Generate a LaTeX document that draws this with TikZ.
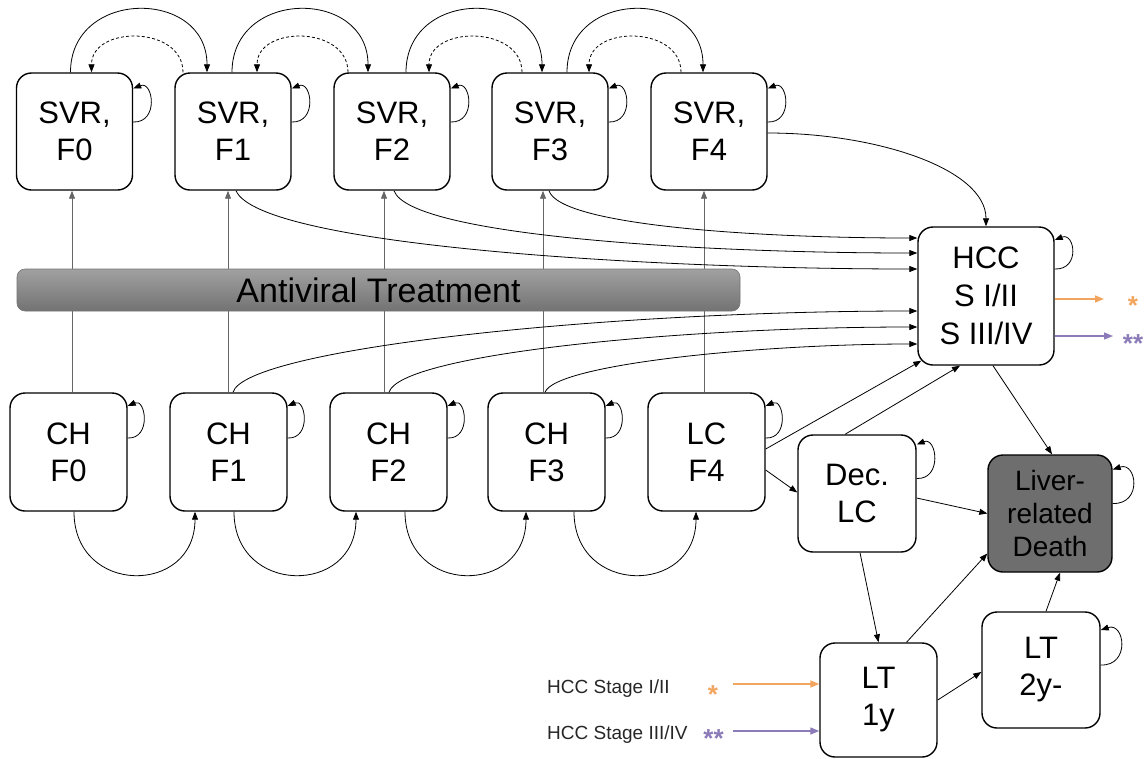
\documentclass[tikz,border=0pt]{standalone}
\usepackage{fontspec}
\setmainfont{Liberation Sans}
\usetikzlibrary{arrows.meta}
\definecolor{orng}{HTML}{F2A55E}
\definecolor{purp}{HTML}{8B7BB8}
\definecolor{deathgray}{HTML}{6E6E6E}
\newcommand\selfloop[4]{\draw[arr] ([yshift=#2pt]#1.east) .. controls +(#4,-1) and +(#4-6,8) .. ([yshift=#3pt]#1.east);}
\begin{document}
\begin{tikzpicture}[x=1pt,y=1pt,
  box/.style={draw=black,line width=1.4pt,rounded corners=15pt,fill=white,align=center,inner sep=0pt,font=\fontsize{31}{37}\selectfont},
  svrbox/.style={box,minimum width=116pt,minimum height=117pt},
  chbox/.style={box,minimum width=117pt,minimum height=118pt},
  arr/.style={-{Triangle[length=8pt,width=6pt]},line width=0.8pt,draw=black},
  back/.style={arr,dash pattern=on 3pt off 2.2pt},
  vline/.style={-{Triangle[length=8pt,width=6pt]},line width=0.9pt,draw=black!60},
  oarr/.style={-{Triangle[length=9pt,width=7pt]},line width=1.6pt,draw=orng},
  parr/.style={-{Triangle[length=9pt,width=7pt]},line width=1.3pt,draw=purp},
  bar/.style={draw=black!55,line width=0.6pt,rounded corners=8pt,top color=black!37,bottom color=black!55,minimum width=723pt,minimum height=42pt,inner sep=0pt,font=\fontsize{34}{40}\selectfont},
  legend/.style={font=\fontsize{19}{22}\selectfont,anchor=base west,inner sep=0pt,text=black!85},
  star/.style={font=\fontsize{26}{28}\bfseries\selectfont,anchor=base,inner sep=0pt}
]
\useasboundingbox (0,0) rectangle (1147,-758);

% top row
\node[svrbox] (svr0) at (74.5,-131.5) {SVR,\\F0};
\node[svrbox] (svr1) at (233,-131.5) {SVR,\\F1};
\node[svrbox] (svr2) at (392,-131.5) {SVR,\\F2};
\node[svrbox] (svr3) at (550,-131.5) {SVR,\\F3};
\node[svrbox] (svr4) at (709,-131.5) {SVR,\\F4};
% bottom row
\node[chbox] (ch0) at (68.5,-452) {CH\\F0};
\node[chbox] (ch1) at (228.5,-452) {CH\\F1};
\node[chbox] (ch2) at (388.5,-452) {CH\\F2};
\node[chbox] (ch3) at (546.5,-452) {CH\\F3};
\node[chbox] (lc4) at (706.5,-452) {LC\\F4};
% right part
\node[box,minimum width=136pt,minimum height=138pt,font=\fontsize{31}{38}\selectfont] (hcc) at (986,-296) {HCC\\S I/II\\S III/IV};
\node[box,minimum width=118pt,minimum height=117pt] (dec) at (857,-493.5) {Dec.\\LC};
\node[box,minimum width=124pt,minimum height=117pt,fill=deathgray,font=\fontsize{28}{33}\selectfont] (death) at (1050,-513.5) {Liver-\\related\\Death};
\node[box,minimum width=117pt,minimum height=114pt] (lt1) at (878.5,-700) {LT\\1y};
\node[box,minimum width=118pt,minimum height=116pt] (lt2) at (1041,-670) {LT\\2y-};

% vertical treatment arrows
\draw[vline] ([xshift=3.5pt]ch0.north) -- ([xshift=-2.5pt]svr0.south);
\draw[vline] ([xshift=-0.5pt]ch1.north) -- ([xshift=-5pt]svr1.south);
\draw[vline] ([xshift=-4.5pt]ch2.north) -- ([xshift=-8pt]svr2.south);
\draw[vline] ([xshift=-3.5pt]ch3.north) -- ([xshift=-7pt]svr3.south);
\draw[vline] ([xshift=-2.5pt]lc4.north) -- ([xshift=-5pt]svr4.south);
\node[bar] (avt) at (378.5,-290) {Antiviral Treatment};

% top arcs
\draw[arr] ([xshift=-4pt]svr0.north) .. controls +(0,84) and +(0,84) .. ([xshift=-26pt]svr1.north);
\draw[back] ([xshift=-50pt]svr1.north) .. controls +(0,47) and +(0,47) .. ([xshift=17pt]svr0.north);
\draw[arr] ([xshift=-1pt]svr1.north) .. controls +(0,84) and +(0,84) .. ([xshift=-24pt]svr2.north);
\draw[back] ([xshift=-44pt]svr2.north) .. controls +(0,47) and +(0,47) .. ([xshift=24pt]svr1.north);
\draw[arr] ([xshift=14pt]svr2.north) .. controls +(0,84) and +(0,84) .. ([xshift=-8pt]svr3.north);
\draw[back] ([xshift=-28pt]svr3.north) .. controls +(0,47) and +(0,47) .. ([xshift=37pt]svr2.north);
\draw[arr] ([xshift=17pt]svr3.north) .. controls +(0,84) and +(0,84) .. ([xshift=-6pt]svr4.north);
\draw[back] ([xshift=-28pt]svr4.north) .. controls +(0,47) and +(0,47) .. ([xshift=39pt]svr3.north);

% bottom arcs
\draw[arr] ([xshift=5.5pt]ch0.south) .. controls +(0,-84) and +(0,-84) .. ([xshift=-33.5pt]ch1.south);
\draw[arr] ([xshift=5.5pt]ch1.south) .. controls +(0,-84) and +(0,-84) .. ([xshift=-32.5pt]ch2.south);
\draw[arr] ([xshift=16.5pt]ch2.south) .. controls +(0,-84) and +(0,-84) .. ([xshift=-20.5pt]ch3.south);
\draw[arr] ([xshift=27.5pt]ch3.south) .. controls +(0,-84) and +(0,-84) .. ([xshift=-10.5pt]lc4.south);

% self loops
\selfloop{svr0}{9.5}{43}{26}
\selfloop{svr1}{9.5}{43}{26}
\selfloop{svr2}{9.5}{43}{26}
\selfloop{svr3}{9.5}{43}{26}
\selfloop{svr4}{9.5}{43}{26}
\selfloop{ch0}{14}{46}{24}
\selfloop{ch1}{14}{46}{24}
\selfloop{ch2}{14}{46}{24}
\selfloop{ch3}{14}{46}{24}
\selfloop{lc4}{14}{46}{24}
\selfloop{hcc}{27}{56}{26}
\selfloop{dec}{15}{49}{26}
\selfloop{death}{10}{44}{30}
\selfloop{lt2}{5}{40}{30}

% SVR -> HCC
\draw[arr] ([xshift=3pt]svr1.south) .. controls +(24,-55) and +(-268,0) .. ([yshift=27pt]hcc.west);
\draw[arr] ([xshift=2pt]svr2.south) .. controls +(16,-45) and +(-218,0) .. ([yshift=43pt]hcc.west);
\draw[arr] ([xshift=-1pt]svr3.south) .. controls +(11,-35) and +(-158,0) .. ([yshift=58pt]hcc.west);
\draw[arr] ([yshift=-1.5pt]svr4.east) .. controls +(110,0) and +(0,57) .. (hcc.north);
% CH -> HCC
\draw[arr] ([xshift=4.5pt]ch1.north) .. controls +(12,43) and +(-318,0) .. ([yshift=-15pt]hcc.west);
\draw[arr] ([xshift=0.5pt]ch2.north) .. controls +(11,38) and +(-238,0) .. ([yshift=-31pt]hcc.west);
\draw[arr] ([xshift=-1.5pt]ch3.north) .. controls +(10,28) and +(-158,0) .. ([yshift=-48pt]hcc.west);

% right connectors
\draw[arr] ([yshift=3pt]lc4.east) -- ([shift={(4pt,5pt)}]hcc.south west);
\draw[arr] ([xshift=-12pt]dec.north) -- ([xshift=-26pt]hcc.south);
\draw[arr] ([yshift=-18pt]lc4.east) -- ([yshift=1pt]dec.west);
\draw[arr] ([yshift=-4.5pt]dec.east) -- (death.west);
\draw[arr] ([xshift=7pt]hcc.south) -- ([xshift=2pt]death.north);
\draw[arr] ([xshift=3pt]dec.south) -- (lt1.north);
\draw[arr] ([xshift=28pt]lt1.north) -- ([yshift=-40pt]death.west);
\draw[arr] (lt1.east) -- ([yshift=-2pt]lt2.west);
\draw[arr] ([xshift=5pt]lt2.north) -- ([xshift=10pt]death.south);

% HCC outputs
\coordinate (oend) at (1104,-299);
\coordinate (pend) at (1113,-336);
\draw[oarr] ([yshift=-3pt]hcc.east) -- (oend);
\draw[parr] ([yshift=-40pt]hcc.east) -- (pend);
\node[star,text=orng] (ostar) at (1133,-314) {*};
\node[star,text=purp] (pstar) at (1133,-352) {**};

% legend
\node[legend] (leg1) at (547,-693) {HCC Stage I/II};
\node[legend] (leg2) at (547,-739) {HCC Stage III/IV};
\node[star,text=orng] (lstar1) at (713,-703) {*};
\node[star,text=purp] (lstar2) at (713.5,-747) {**};
\coordinate (lo) at (733,-684);
\coordinate (lp) at (733,-731);
\draw[oarr] (lo) -- ([yshift=16pt]lt1.west);
\draw[parr] (lp) -- ([yshift=-31pt]lt1.west);
\end{tikzpicture}
\end{document}
